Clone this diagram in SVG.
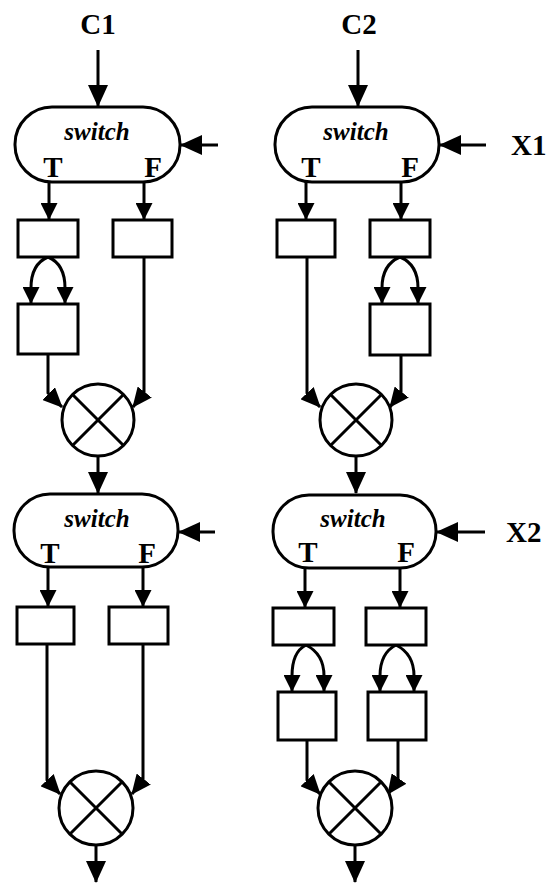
<svg xmlns="http://www.w3.org/2000/svg" width="547" height="884" viewBox="0 0 547 884">
<defs>
<style>
.ln{fill:none;stroke:#000;stroke-width:3}
.bx{fill:#fff;stroke:#000;stroke-width:3}
.lbl{font-family:"Liberation Serif","Times New Roman",serif;font-weight:bold;font-size:29px;fill:#000}
.sw{font-family:"Liberation Serif","Times New Roman",serif;font-style:italic;font-weight:bold;font-size:25px;fill:#000;text-anchor:middle}
.tf{font-family:"Liberation Serif","Times New Roman",serif;font-weight:bold;font-size:29px;fill:#000;text-anchor:middle}
</style>
<marker id="big" markerUnits="userSpaceOnUse" markerWidth="22" markerHeight="20" viewBox="0 0 22 20" refX="21" refY="10" orient="auto"><path d="M0,0 L22,10 L0,20 z" fill="#000"/></marker>
<marker id="sm" markerUnits="userSpaceOnUse" markerWidth="17" markerHeight="17" viewBox="0 0 17 17" refX="16" refY="8.5" orient="auto"><path d="M0,0 L17,8.5 L0,17 z" fill="#000"/></marker>
<marker id="md" markerUnits="userSpaceOnUse" markerWidth="20" markerHeight="18" viewBox="0 0 20 18" refX="19" refY="9" orient="auto"><path d="M0,0 L20,9 L0,18 z" fill="#000"/></marker>
</defs>
<rect width="547" height="884" fill="#fff"/>

<g id="connectors">
<path class="ln" d="M98,50 V106" marker-end="url(#big)"/>
<path class="ln" d="M218,145 H181" marker-end="url(#big)"/>
<path class="ln" d="M49,182 V219" marker-end="url(#sm)"/>
<path class="ln" d="M144,182 V219" marker-end="url(#sm)"/>
<path class="ln" d="M48,257 C36,262 31,272 31,288 V303" marker-end="url(#sm)"/>
<path class="ln" d="M48,257 C60,262 65,272 65,288 V303" marker-end="url(#sm)"/>
<path class="ln" d="M48,354 V393 L62,407" marker-end="url(#md)"/>
<path class="ln" d="M144,257 V393 L133,407" marker-end="url(#md)"/>
<path class="ln" d="M98,456 V493" marker-end="url(#big)"/>
<path class="ln" d="M215,532 H179" marker-end="url(#big)"/>
<path class="ln" d="M48,567 V606" marker-end="url(#sm)"/>
<path class="ln" d="M143,567 V606" marker-end="url(#sm)"/>
<path class="ln" d="M47,644 V780 L60,794" marker-end="url(#md)"/>
<path class="ln" d="M143,644 V780 L132,794" marker-end="url(#md)"/>
<path class="ln" d="M96,845 V882" marker-end="url(#big)"/>
<path class="ln" d="M358,50 V106" marker-end="url(#big)"/>
<path class="ln" d="M486,145 H440" marker-end="url(#big)"/>
<path class="ln" d="M306,182 V219" marker-end="url(#sm)"/>
<path class="ln" d="M401,182 V219" marker-end="url(#sm)"/>
<path class="ln" d="M400,257 C388,262 382,272 382,288 V303" marker-end="url(#sm)"/>
<path class="ln" d="M400,257 C412,262 418,272 418,288 V303" marker-end="url(#sm)"/>
<path class="ln" d="M307,257 V393 L320,407" marker-end="url(#md)"/>
<path class="ln" d="M401,355 V393 L390,407" marker-end="url(#md)"/>
<path class="ln" d="M356,456 V493" marker-end="url(#big)"/>
<path class="ln" d="M485,532 H437" marker-end="url(#big)"/>
<path class="ln" d="M305,568 V607" marker-end="url(#sm)"/>
<path class="ln" d="M400,568 V607" marker-end="url(#sm)"/>
<path class="ln" d="M306,645 C296,650 292,660 292,676 V691" marker-end="url(#sm)"/>
<path class="ln" d="M306,645 C316,650 324,660 324,676 V691" marker-end="url(#sm)"/>
<path class="ln" d="M396,645 C386,650 380,660 380,676 V691" marker-end="url(#sm)"/>
<path class="ln" d="M396,645 C406,650 414,660 414,676 V691" marker-end="url(#sm)"/>
<path class="ln" d="M307,740 V780 L320,794" marker-end="url(#md)"/>
<path class="ln" d="M398,740 V780 L388,794" marker-end="url(#md)"/>
<path class="ln" d="M355,845 V882" marker-end="url(#big)"/>
</g>

<g id="label-C1"><text class="lbl" x="98" y="34" text-anchor="middle">C1</text></g>
<g id="label-C2"><text class="lbl" x="359" y="34" text-anchor="middle">C2</text></g>
<g id="label-X1"><text class="lbl" x="511" y="155">X1</text></g>
<g id="label-X2"><text class="lbl" x="506" y="542">X2</text></g>

<g id="switch1">
<rect class="bx" x="15" y="107" width="165" height="75" rx="37" ry="37"/>
<text class="sw" x="97" y="140">switch</text>
<text class="tf" x="53" y="177">T</text>
<text class="tf" x="153" y="177">F</text>
</g>
<g id="box1"><rect class="bx" x="18" y="220" width="60" height="37"/></g>
<g id="box2"><rect class="bx" x="113" y="220" width="59" height="37"/></g>
<g id="box3"><rect class="bx" x="18" y="304" width="60" height="50"/></g>
<g id="merge1">
<circle class="bx" cx="98" cy="420" r="36"/>
<path class="ln" d="M73,395 L123,445 M123,395 L73,445"/>
</g>

<g id="switch2">
<rect class="bx" x="14" y="494" width="164" height="73" rx="36" ry="36"/>
<text class="sw" x="97" y="527">switch</text>
<text class="tf" x="50" y="563">T</text>
<text class="tf" x="147" y="563">F</text>
</g>
<g id="box4"><rect class="bx" x="17" y="607" width="57" height="37"/></g>
<g id="box5"><rect class="bx" x="109" y="607" width="59" height="37"/></g>
<g id="merge2">
<circle class="bx" cx="96" cy="808" r="37"/>
<path class="ln" d="M70,782 L122,834 M122,782 L70,834"/>
</g>

<g id="switch3">
<rect class="bx" x="275" y="107" width="164" height="75" rx="37" ry="37"/>
<text class="sw" x="356" y="140">switch</text>
<text class="tf" x="311" y="177">T</text>
<text class="tf" x="410" y="177">F</text>
</g>
<g id="box6"><rect class="bx" x="277" y="220" width="58" height="37"/></g>
<g id="box7"><rect class="bx" x="370" y="220" width="60" height="37"/></g>
<g id="box8"><rect class="bx" x="370" y="304" width="60" height="51"/></g>
<g id="merge3">
<circle class="bx" cx="356" cy="420" r="36"/>
<path class="ln" d="M331,395 L381,445 M381,395 L331,445"/>
</g>

<g id="switch4">
<rect class="bx" x="273" y="495" width="163" height="73" rx="36" ry="36"/>
<text class="sw" x="353" y="527">switch</text>
<text class="tf" x="308" y="562">T</text>
<text class="tf" x="406" y="562">F</text>
</g>
<g id="box9"><rect class="bx" x="273" y="608" width="61" height="37"/></g>
<g id="box10"><rect class="bx" x="366" y="608" width="60" height="37"/></g>
<g id="box11"><rect class="bx" x="278" y="692" width="58" height="48"/></g>
<g id="box12"><rect class="bx" x="368" y="692" width="58" height="48"/></g>
<g id="merge4">
<circle class="bx" cx="355" cy="808" r="37"/>
<path class="ln" d="M329,782 L381,834 M381,782 L329,834"/>
</g>
</svg>
